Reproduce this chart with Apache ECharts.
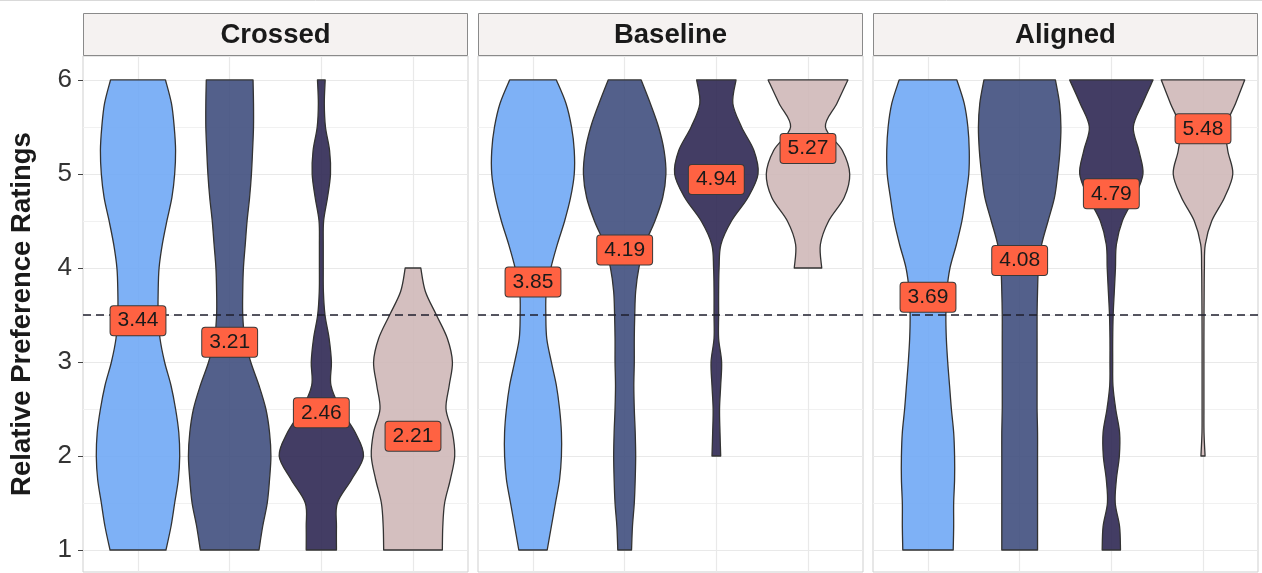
<!DOCTYPE html>
<html>
<head>
<meta charset="utf-8">
<script src="https://cdn.jsdelivr.net/npm/echarts@6/dist/echarts.min.js"></script>
<style>
  html, body { margin: 0; padding: 0; background: #ffffff; }
  #chart { width: 1262px; height: 573px; }
</style>
</head>
<body>
<div id="chart"></div>
<script>
// ---- data ---------------------------------------------------------------
const facets = ['Crossed', 'Baseline', 'Aligned'];
const slots = [1, 2, 3, 4];               // four conditions inside each facet
const yTicks = [1, 2, 3, 4, 5, 6];
const refLevel = 3.5;                      // neutral rating
// ratings at which the violin widths are sampled (bottom -> top)
const levels = [1, 1.25, 1.5, 1.75, 2, 2.25, 2.5, 2.75, 3, 3.25, 3.5,
                3.75, 4, 4.25, 4.5, 4.75, 5, 5.25, 5.5, 5.75, 6];

// violin widths (in slot units) at each level; null = outside the data range
const crossedWidths = [
  [0.61, 0.72, 0.80, 0.88, 0.91, 0.89, 0.82, 0.72, 0.58, 0.48, 0.44, 0.44, 0.46, 0.53, 0.63, 0.74, 0.80, 0.82, 0.79, 0.73, 0.60],
  [0.64, 0.72, 0.82, 0.87, 0.90, 0.87, 0.79, 0.64, 0.46, 0.33, 0.285, 0.285, 0.30, 0.34, 0.38, 0.435, 0.475, 0.50, 0.52, 0.52, 0.51],
  [0.33, 0.33, 0.35, 0.66, 0.92, 0.74, 0.42, 0.21, 0.22, 0.17, 0.08, 0.045, 0.042, 0.042, 0.05, 0.135, 0.20, 0.18, 0.09, 0.065, 0.084],
  [0.64, 0.65, 0.69, 0.815, 0.91, 0.86, 0.72, 0.79, 0.86, 0.75, 0.51, 0.27, 0.17, null, null, null, null, null, null, null, null]
];
const baselineWidths = [
  [0.31, 0.40, 0.49, 0.58, 0.62, 0.62, 0.58, 0.51, 0.40, 0.30, 0.28, 0.29, 0.39, 0.53, 0.69, 0.82, 0.90, 0.90, 0.84, 0.72, 0.51],
  [0.15, 0.17, 0.21, 0.23, 0.24, 0.23, 0.21, 0.20, 0.21, 0.21, 0.22, 0.24, 0.31, 0.44, 0.66, 0.83, 0.90, 0.86, 0.74, 0.56, 0.36],
  [null, null, null, null, 0.095, 0.08, 0.07, 0.095, 0.115, 0.05, 0.05, 0.05, 0.06, 0.10, 0.33, 0.69, 0.91, 0.82, 0.55, 0.36, 0.43],
  [null, null, null, null, null, null, null, null, null, null, null, null, 0.30, 0.27, 0.45, 0.79, 0.91, 0.75, 0.38, 0.63, 0.87]
];
const alignedWidths = [
  [0.55, 0.56, 0.56, 0.58, 0.58, 0.56, 0.51, 0.47, 0.43, 0.40, 0.39, 0.41, 0.48, 0.62, 0.74, 0.82, 0.89, 0.90, 0.87, 0.79, 0.63],
  [0.39, 0.39, 0.39, 0.39, 0.39, 0.39, 0.38, 0.38, 0.38, 0.38, 0.38, 0.39, 0.41, 0.48, 0.62, 0.76, 0.83, 0.88, 0.90, 0.87, 0.78],
  [0.20, 0.18, 0.085, 0.11, 0.175, 0.18, 0.095, 0.035, 0.03, 0.03, 0.04, 0.065, 0.09, 0.11, 0.24, 0.50, 0.69, 0.60, 0.48, 0.68, 0.91],
  [null, null, null, null, 0.045, 0.022, 0.02, 0.02, 0.02, 0.02, 0.022, 0.025, 0.03, 0.05, 0.19, 0.47, 0.65, 0.54, 0.50, 0.71, 0.91]
];

// mean rating of each condition
const crossedMeans  = [3.44, 3.21, 2.46, 2.21];
const baselineMeans = [3.85, 4.19, 4.94, 5.27];
const alignedMeans  = [3.69, 4.08, 4.79, 5.48];

// ---- styling / layout ---------------------------------------------------
const fills = ['rgba(112,168,245,0.9)', 'rgba(64,79,126,0.9)', 'rgba(47,40,83,0.9)', 'rgba(207,184,184,0.9)'];
const FONT = '"Liberation Sans", Arial, Helvetica, sans-serif';
const panelLeft = [83, 478, 873];
const panelWidth = 385;
const panelTop = 56;
const panelHeight = 516;
const stripTop = 13;
const yMin = 0.766, yMax = 6.255;
const xMin = 0.4, xMax = 4.6;

const widthsByFacet = [crossedWidths, baselineWidths, alignedWidths];
const meansByFacet = [crossedMeans, baselineMeans, alignedMeans];

// Catmull-Rom curve through pixel points, as cubic bezier segments
function curveThrough(pts) {
  let d = '';
  for (let i = 0; i < pts.length - 1; i++) {
    const p0 = pts[i - 1] || pts[i];
    const p1 = pts[i];
    const p2 = pts[i + 1];
    const p3 = pts[i + 2] || p2;
    const c1x = p1[0] + (p2[0] - p0[0]) / 6, c1y = p1[1] + (p2[1] - p0[1]) / 6;
    const c2x = p2[0] - (p3[0] - p1[0]) / 6, c2y = p2[1] - (p3[1] - p1[1]) / 6;
    d += ' C' + c1x.toFixed(2) + ',' + c1y.toFixed(2) + ' ' + c2x.toFixed(2) + ',' + c2y.toFixed(2) +
         ' ' + p2[0].toFixed(2) + ',' + p2[1].toFixed(2);
  }
  return d;
}

function violinRenderer(facetIdx) {
  return function (params, api) {
    const slot = api.value(0);
    const k = api.value(1);
    const widths = widthsByFacet[facetIdx][k];
    const left = [], right = [];
    levels.forEach(function (v, j) {
      const w = widths[j];
      if (w == null) return;
      left.push(api.coord([slot - w / 2, v]));
      right.push(api.coord([slot + w / 2, v]));
    });
    right.reverse();
    const d = 'M' + left[0][0].toFixed(2) + ',' + left[0][1].toFixed(2) + curveThrough(left) +
              ' L' + right[0][0].toFixed(2) + ',' + right[0][1].toFixed(2) + curveThrough(right) + ' Z';
    return {
      type: 'path',
      shape: { pathData: d },
      style: { fill: fills[k], stroke: '#333333', lineWidth: 1.3, lineJoin: 'round' }
    };
  };
}

const grids = [], xAxes = [], yAxes = [], series = [], graphics = [];

graphics.push({
  type: 'line', shape: { x1: 0, y1: 0.5, x2: 1262, y2: 0.5 },
  style: { stroke: '#d9d9d9', lineWidth: 1 }, silent: true
});

facets.forEach(function (name, i) {
  grids.push({
    left: panelLeft[i], top: panelTop, width: panelWidth, height: panelHeight,
    show: true, backgroundColor: '#ffffff', borderColor: '#cfcfcf', borderWidth: 1
  });
  xAxes.push({
    type: 'value', gridIndex: i, min: xMin, max: xMax, show: false,
    splitLine: { show: false }
  });
  yAxes.push({
    type: 'value', gridIndex: i, min: yMin, max: yMax,
    splitLine: { show: false },
    axisLine: { show: false },
    axisTick: i === 0 ? { show: true, length: 5, customValues: yTicks, lineStyle: { color: '#444', width: 1 } } : { show: false },
    axisLabel: i === 0 ? {
      show: true, customValues: yTicks, margin: 11, fontSize: 26, color: '#333', fontFamily: FONT
    } : { show: false },
    name: i === 0 ? 'Relative Preference Ratings' : '',
    nameLocation: 'middle', nameGap: 47,
    nameTextStyle: { fontSize: 27.5, fontWeight: 'bold', color: '#1a1a1a', fontFamily: FONT }
  });

  // panel grid lines
  const gridLines = [];
  yTicks.forEach(function (t) {
    gridLines.push({ yAxis: t, lineStyle: { color: '#e9e9e9', width: 1.2 } });
    if (t < 6) gridLines.push({ yAxis: t + 0.5, lineStyle: { color: '#f1f1f1', width: 1 } });
  });
  slots.forEach(function (s) {
    gridLines.push({ xAxis: s, lineStyle: { color: '#e9e9e9', width: 1.2 } });
  });
  series.push({
    type: 'line', xAxisIndex: i, yAxisIndex: i, data: [], z: 1, silent: true,
    markLine: { z: 1, symbol: 'none', silent: true, label: { show: false }, animation: false,
                lineStyle: { type: 'solid' }, data: gridLines }
  });

  // violins
  series.push({
    type: 'custom', xAxisIndex: i, yAxisIndex: i, z: 2, silent: true,
    renderItem: violinRenderer(i),
    data: slots.map(function (s, k) { return [s, k]; }),
    animation: false
  });

  // neutral reference line
  series.push({
    type: 'line', xAxisIndex: i, yAxisIndex: i, data: [], z: 3, silent: true,
    markLine: { z: 3, symbol: 'none', silent: true, label: { show: false }, animation: false,
                lineStyle: { type: [8, 5], color: '#1f1f2e', width: 1.6 },
                data: [{ yAxis: refLevel }] }
  });

  // mean labels
  series.push({
    type: 'scatter', xAxisIndex: i, yAxisIndex: i, z: 4, silent: true,
    symbolSize: 1, itemStyle: { color: 'rgba(0,0,0,0)', opacity: 0 },
    data: meansByFacet[i].map(function (m, k) { return [slots[k], m]; }),
    label: {
      show: true, position: 'inside', opacity: 1,
      formatter: function (p) { return p.value[1].toFixed(2); },
      fontSize: 21, lineHeight: 22, color: '#1a1a1a', fontFamily: FONT,
      backgroundColor: '#ff6242', borderColor: '#3a3a3a', borderWidth: 1,
      borderRadius: 3, padding: [4, 7, 3, 7]
    },
    animation: false
  });

  // facet strip
  graphics.push({
    type: 'rect', silent: true,
    shape: { x: panelLeft[i] + 0.5, y: stripTop + 0.5, width: panelWidth - 1, height: panelTop - stripTop - 1 },
    style: { fill: '#f5f2f1', stroke: '#8a8a8a', lineWidth: 1 }
  });
  graphics.push({
    type: 'text', silent: true,
    x: panelLeft[i] + panelWidth / 2, y: (stripTop + panelTop) / 2 + 1,
    style: { text: name, fontSize: 27.5, fontWeight: 'bold', fill: '#1a1a1a', fontFamily: FONT,
             align: 'center', verticalAlign: 'middle' }
  });
});

const chart = echarts.init(document.getElementById('chart'), null, { renderer: 'canvas' });
chart.setOption({
  backgroundColor: '#ffffff',
  animation: false,
  textStyle: { fontFamily: FONT },
  grid: grids,
  xAxis: xAxes,
  yAxis: yAxes,
  series: series,
  graphic: graphics
});
</script>
</body>
</html>
